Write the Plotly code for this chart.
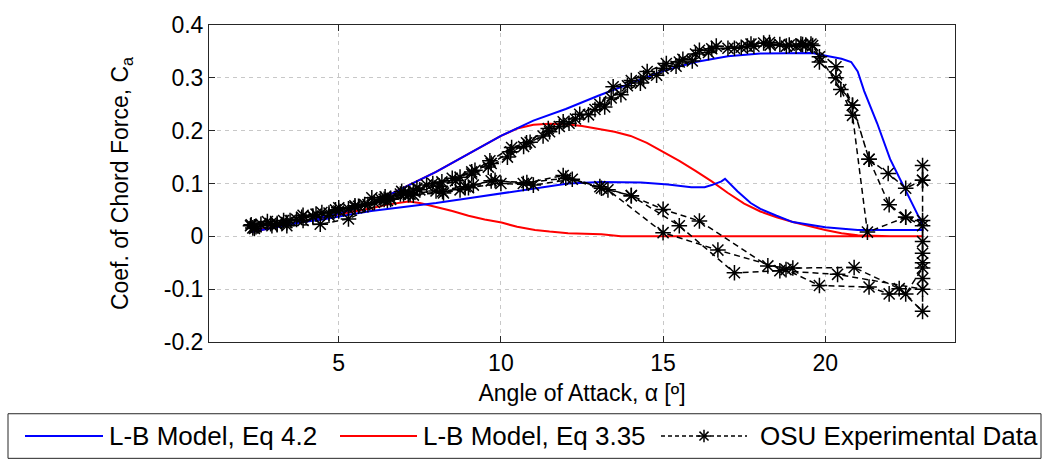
import plotly.graph_objects as go

# ---------------- data ----------------
# L-B Model, Eq 4.2 (closed hysteresis loop: upstroke then downstroke)
lb42_alpha = [2.3, 3.0, 4.0, 5.0, 6.0, 7.0, 8.0, 9.0, 10.0, 11.0, 12.0, 13.0, 14.0, 15.0,
              16.0, 17.0, 18.0, 19.0, 19.6, 20.1, 20.5, 20.8, 21.0, 21.2, 21.6, 22.0, 22.3,
              22.6, 22.94, 23.0,
              23.0, 22.0, 21.0, 20.0, 19.7, 19.0, 18.5, 18.0, 17.7, 17.3, 16.91, 16.8, 16.5,
              16.28, 15.87, 15.15, 14.33, 13.1, 12.07, 11.0, 10.0, 9.0, 8.0, 7.0, 6.0, 5.4,
              4.5, 3.9, 3.0, 2.3]
lb42_ca = [0.008, 0.017, 0.029, 0.043, 0.062, 0.092, 0.122, 0.156, 0.190, 0.219, 0.241, 0.266,
           0.290, 0.313, 0.330, 0.341, 0.346, 0.347, 0.347, 0.341, 0.336, 0.330, 0.312, 0.275,
           0.214, 0.146, 0.109, 0.073, 0.030, 0.014,
           0.012, 0.012, 0.012, 0.017, 0.020, 0.027, 0.039, 0.052, 0.063, 0.085, 0.109, 0.104,
           0.097, 0.093, 0.093, 0.098, 0.102, 0.103, 0.100, 0.090, 0.080, 0.072, 0.063, 0.056,
           0.048, 0.042, 0.032, 0.027, 0.016, 0.008]

# L-B Model, Eq 3.35
lb335_alpha = [2.3, 3.0, 4.0, 5.0, 6.0, 7.0, 8.0, 9.0, 10.0, 10.5, 11.0, 11.5, 12.0, 12.5,
               13.0, 13.5, 14.0, 14.5, 15.0, 15.5, 16.0, 16.5, 17.0, 17.5, 18.0, 18.5, 19.0,
               19.5, 20.0, 20.5, 21.0, 21.5, 22.0, 23.0,
               23.0, 20.0, 17.0, 15.0, 13.7, 13.1, 12.5, 12.07, 11.5, 11.05, 10.5, 10.02, 9.5,
               9.0, 8.5, 8.0, 7.5, 7.15, 6.5, 6.0, 5.0, 4.0, 3.0, 2.3]
lb335_ca = [0.008, 0.017, 0.029, 0.043, 0.062, 0.092, 0.122, 0.156, 0.190, 0.204, 0.211,
            0.213, 0.212, 0.209, 0.204, 0.198, 0.190, 0.177, 0.160, 0.143, 0.124, 0.104,
            0.082, 0.062, 0.047, 0.036, 0.027, 0.019, 0.012, 0.006, 0.002, 0.001, 0.0, 0.0,
            0.0, 0.0, 0.0, 0.0, 0.0, 0.004, 0.005, 0.006, 0.009, 0.012, 0.018, 0.026, 0.032,
            0.039, 0.048, 0.056, 0.063, 0.066, 0.060, 0.053, 0.042, 0.030, 0.018, 0.010]

# OSU Experimental Data (several consecutive cycles)
osu_alpha = [
    # cycle 1 upstroke
    2.28, 2.6, 2.94, 3.4, 3.86, 4.48, 5.0, 5.61, 6.02, 6.43, 6.94, 7.41, 7.71, 8.18, 8.74,
    9.2, 9.66, 10.33, 10.79, 11.46, 11.92, 12.43, 13.05, 13.46, 14.02, 14.51, 15.10, 15.61,
    16.12, 16.64, 17.41, 17.71, 18.28, 18.89, 19.25, 19.61, 19.82, 20.48, 20.84, 21.30, 22.48,
    23.0, 23.0, 23.0,
    # cycle 1 downstroke
    22.48, 21.97, 21.35, 19.82, 18.79, 16.69, 15.0, 13.3, 11.92, 10.69, 9.82, 9.15, 8.74,
    8.23, 7.15, 6.5, 5.3, 4.43, 3.4, 2.4,
    # cycle 2 upstroke
    2.3, 2.8, 3.3, 3.9, 4.3, 4.9, 5.5, 6.1, 6.6, 7.0, 7.5, 8.1, 8.6, 9.1, 9.61, 10.2, 10.7,
    11.3, 11.8, 12.3, 12.9, 13.4, 13.9, 14.4, 15.0, 15.5, 16.0, 16.5, 17.2, 17.8, 18.3, 18.8,
    19.3, 19.56, 20.33, 20.84, 21.35, 21.94, 22.48, 23.0, 23.0, 23.0, 23.0, 23.0,
    # cycle 2 downstroke
    22.28, 20.89, 19.0, 18.23, 16.12, 15.0, 14.02, 13.05, 12.2, 11.0, 10.0, 9.0, 8.2, 7.3,
    6.6, 5.8, 5.0, 4.2, 3.5, 2.9, 2.35,
    # cycle 3 upstroke
    2.45, 3.1, 3.7, 4.2, 4.7, 5.3, 5.9, 6.4, 6.9, 7.3, 7.9, 8.5, 9.1, 9.7, 10.3, 10.9, 11.5,
    12.1, 12.7, 13.2, 13.7, 14.3, 14.8, 15.4, 15.9, 16.4, 17.0, 17.6, 18.1, 18.6, 19.1, 19.4,
    19.82, 20.33, 20.84, 21.35, 21.97, 22.48, 23.0, 23.0, 23.0, 23.0,
    # cycle 3 downstroke
    20.38, 18.6, 17.2, 15.5, 14.02, 13.1, 12.0, 10.8, 9.7, 8.9, 8.0, 7.2, 6.3, 5.5, 4.7,
    3.9, 3.1, 2.4]
osu_ca = [
    0.020, 0.023, 0.020, 0.026, 0.036, 0.045, 0.054, 0.057, 0.073, 0.075, 0.085, 0.091, 0.097,
    0.103, 0.112, 0.125, 0.143, 0.168, 0.177, 0.204, 0.217, 0.231, 0.250, 0.283, 0.295, 0.312,
    0.327, 0.335, 0.352, 0.360, 0.358, 0.364, 0.367, 0.362, 0.364, 0.361, 0.340, 0.278, 0.229,
    0.008, 0.036, 0.020, -0.010, -0.060,
    -0.109, -0.109, -0.096, -0.093, -0.063, -0.026, 0.007, 0.088, 0.115, 0.100, 0.106, 0.097,
    0.088, 0.082, 0.079, 0.068, 0.033, 0.023, 0.020, 0.015,
    0.022, 0.028, 0.030, 0.040, 0.042, 0.050, 0.058, 0.064, 0.072, 0.080, 0.088, 0.095, 0.105,
    0.118, 0.131, 0.150, 0.170, 0.190, 0.208, 0.222, 0.240, 0.262, 0.285, 0.300, 0.318, 0.330,
    0.345, 0.355, 0.356, 0.360, 0.362, 0.360, 0.363, 0.364, 0.321, 0.248, 0.146, 0.119, 0.091,
    0.106, 0.134, 0.106, -0.032, -0.142,
    -0.099, -0.059, -0.060, -0.056, 0.029, 0.051, 0.077, 0.094, 0.108, 0.097, 0.100, 0.092,
    0.085, 0.078, 0.070, 0.060, 0.048, 0.038, 0.030, 0.024, 0.016,
    0.018, 0.024, 0.032, 0.038, 0.044, 0.052, 0.060, 0.070, 0.080, 0.086, 0.100, 0.110, 0.122,
    0.138, 0.160, 0.178, 0.198, 0.214, 0.230, 0.245, 0.268, 0.290, 0.305, 0.322, 0.332, 0.348,
    0.356, 0.360, 0.366, 0.363, 0.360, 0.362, 0.330, 0.300, 0.248, 0.146, 0.060, 0.036, 0.030,
    -0.050, -0.080, -0.100,
    -0.072, -0.065, -0.069, 0.020, 0.077, 0.091, 0.110, 0.102, 0.105, 0.094, 0.086, 0.080,
    0.070, 0.055, 0.040, 0.030, 0.022, 0.018]

x_ticks = [5, 10, 15, 20]
y_ticks = [-0.2, -0.1, 0, 0.1, 0.2, 0.3, 0.4]
y_tick_text = ["-0.2", "-0.1", "0", "0.1", "0.2", "0.3", "0.4"]

legend_names = ["L-B Model, Eq 4.2", "L-B Model, Eq 3.35", "OSU Experimental Data"]
legend_colors = ["#0000FF", "#FF0000", "#000000"]

# ---------------- figure ----------------
W, H = 1046, 465
L, R, T, B = 209, 955, 15, 342
FONT = "Liberation Sans, Arial, sans-serif"
FS = 23
LFS = 26
AX = "#262626"

fig = go.Figure()
fig.add_trace(go.Scatter(x=lb335_alpha, y=lb335_ca, mode="lines", name=legend_names[1],
                         line=dict(color=legend_colors[1], width=2), showlegend=False))
fig.add_trace(go.Scatter(x=lb42_alpha, y=lb42_ca, mode="lines", name=legend_names[0],
                         line=dict(color=legend_colors[0], width=2), showlegend=False))
fig.add_trace(go.Scatter(x=osu_alpha, y=osu_ca, mode="lines+markers", name=legend_names[2],
                         line=dict(color="black", width=1.5, dash="6px,4px"),
                         marker=dict(symbol="asterisk-open", size=13,
                                     line=dict(color="black", width=1.5)),
                         showlegend=False))


def px2x(p):
    return (p - L) / (R - L)


def py2y(p):
    return (B - p) / (B - T)


shapes = []
annotations = []
# legend box
shapes.append(dict(type="rect", xref="paper", yref="paper", x0=px2x(8), x1=px2x(1041),
                   y0=py2y(462), y1=py2y(416), line=dict(color=AX, width=1),
                   fillcolor="white", layer="above"))
ly = 439
items = [(25, 103, 107, "solid"), (340, 417, 421, "solid"), (661, 747, 758, "dot")]
for (a, b, tx, dsh), nm, col in zip(items, legend_names, legend_colors):
    shapes.append(dict(type="line", xref="paper", yref="paper", x0=px2x(a), x1=px2x(b),
                       y0=py2y(ly), y1=py2y(ly),
                       line=dict(color=col, width=2 if col != "#000000" else 1.5,
                                 dash="solid" if dsh == "solid" else "4px,3px")))
    annotations.append(dict(text=nm, xref="paper", yref="paper", x=px2x(tx), y=py2y(ly),
                            xanchor="left", yanchor="middle", showarrow=False,
                            font=dict(family=FONT, size=LFS, color="#000000")))
# asterisk marker in the legend
cx, cy, r = (661 + 747) / 2, ly, 6.5
for dx, dy in [(1, 0), (0, 1), (0.7, 0.7), (0.7, -0.7)]:
    shapes.append(dict(type="line", xref="paper", yref="paper",
                       x0=px2x(cx - dx * r), x1=px2x(cx + dx * r),
                       y0=py2y(cy - dy * r), y1=py2y(cy + dy * r),
                       line=dict(color="black", width=1.5)))

fig.update_layout(
    width=W, height=H,
    margin=dict(l=L, r=W - R, t=T, b=H - B, pad=0),
    paper_bgcolor="white", plot_bgcolor="white",
    font=dict(family=FONT, size=FS, color="#000000"),
    showlegend=False,
    shapes=shapes, annotations=annotations,
)
axis_common = dict(showline=True, linecolor=AX, linewidth=1, mirror="ticks",
                   ticks="inside", ticklen=6, tickcolor=AX, tickwidth=1,
                   showgrid=True, gridcolor="#c8c8c8", gridwidth=1, griddash="4px,4px",
                   zeroline=False, tickfont=dict(family=FONT, size=FS, color="#000000"))
fig.update_xaxes(range=[1, 24], tickvals=x_ticks, ticktext=[str(v) for v in x_ticks],
                 title=dict(text="Angle of Attack, α [º]", standoff=10,
                            font=dict(family=FONT, size=FS)),
                 **axis_common)
fig.update_yaxes(range=[-0.2, 0.4], tickvals=y_ticks, ticktext=y_tick_text,
                 title=dict(text="Coef. of Chord Force, C<sub>a</sub>", standoff=28,
                            font=dict(family=FONT, size=FS)),
                 **axis_common)

fig.write_html("out.html")
